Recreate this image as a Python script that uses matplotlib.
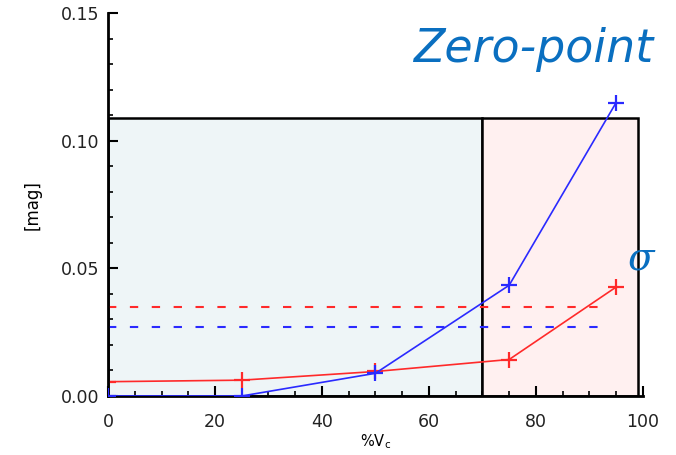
import matplotlib
matplotlib.use("Agg")
import matplotlib.pyplot as plt
from matplotlib.patches import Rectangle
from matplotlib.ticker import MultipleLocator

# Percentage of Vc sampled
vc = [0, 25, 50, 75, 95]
# Zero-point offset and scatter, in mag
zero_point = [0.0, 0.0, 0.0089, 0.0434, 0.115]
sigma = [0.0056, 0.0062, 0.0096, 0.0143, 0.0427]
# Reference levels (dashed)
zp_level = 0.027
sigma_level = 0.035
level_span = [0, 94]
# Shaded regions: (start, end) in %Vc and the common height
region_ok = (0, 70)
region_bad = (70, 99)
region_top = 0.109

fig = plt.figure(figsize=(6.76, 4.55), dpi=100)
ax = fig.add_axes([0.1598, 0.1297, 0.7912, 0.8411])

ax.add_patch(Rectangle((region_ok[0], 0), region_ok[1] - region_ok[0], region_top,
                       facecolor="#eef5f7", edgecolor="black", lw=1.8, zorder=1))
ax.add_patch(Rectangle((region_bad[0], 0), region_bad[1] - region_bad[0], region_top,
                       facecolor="#fff0f0", edgecolor="black", lw=1.8, zorder=1))

ax.plot(level_span, [sigma_level] * 2, color="#ff2a2a", lw=1.5, dashes=(4, 6.5), zorder=2)
ax.plot(level_span, [zp_level] * 2, color="#2a2aff", lw=1.5, dashes=(4, 6.5), zorder=2)

ax.plot(vc, sigma, color="#ff2a2a", lw=1.2, marker="+", ms=11, mew=1.6, zorder=3)
ax.plot(vc, zero_point, color="#2a2aff", lw=1.2, marker="+", ms=11, mew=1.6, zorder=6)

ax.set_xlim(0, 100)
ax.set_ylim(0, 0.15)
ax.xaxis.set_major_locator(MultipleLocator(20))
ax.xaxis.set_minor_locator(MultipleLocator(5))
ax.yaxis.set_major_locator(MultipleLocator(0.05))
ax.yaxis.set_minor_locator(MultipleLocator(0.01))
ax.yaxis.set_major_formatter(matplotlib.ticker.FormatStrFormatter("%.2f"))

for side in ("top", "right"):
    ax.spines[side].set_visible(False)
for side in ("left", "bottom"):
    ax.spines[side].set_linewidth(2)
    ax.spines[side].set_zorder(5)
ax.tick_params(which="major", direction="in", length=7.5, width=1.5, labelsize=12.5,
               colors="black", labelcolor="#222222")
ax.tick_params(axis="x", which="major", pad=12)
ax.tick_params(axis="y", which="major", pad=6)
ax.tick_params(which="minor", direction="in", length=3.8, width=1.2)
ax.patch.set_alpha(0)

ax.set_xlabel("%V$_\\mathrm{c}$", fontsize=10.5, labelpad=1)
ax.set_ylabel("[mag]", fontsize=12, labelpad=14)

fig.text(0.611, 0.864, "Zero-point", fontsize=33, style="italic", color="#0a6fc0")
fig.text(0.929, 0.407, "σ", fontsize=28, style="italic", family="DejaVu Serif", color="#0a6fc0")

fig.savefig("out.png", dpi=100)
